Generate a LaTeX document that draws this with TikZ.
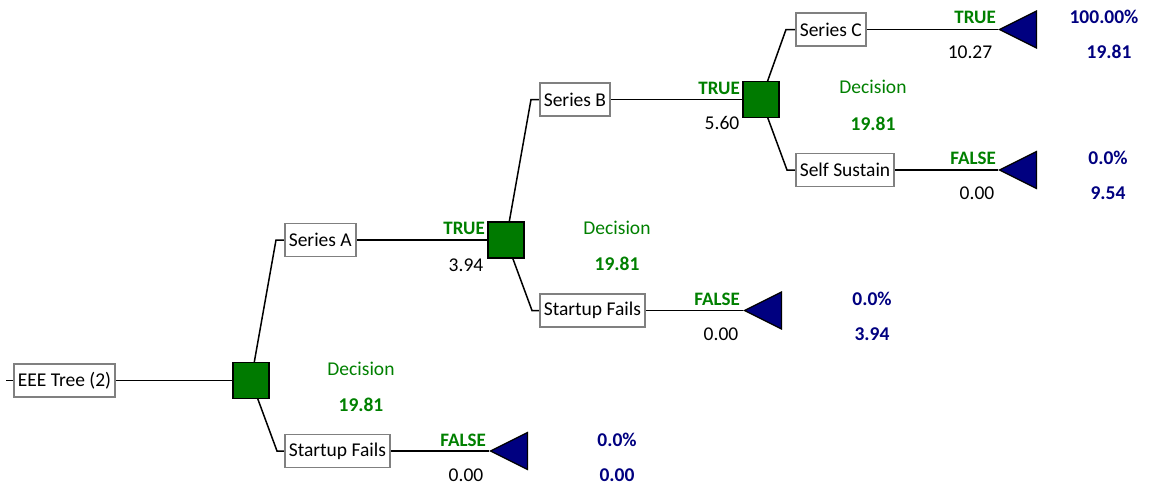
\documentclass[tikz,border=0pt]{standalone}
\usepackage{fontspec}
\setmainfont{Carlito}
\usetikzlibrary{shapes.geometric,backgrounds}
\definecolor{dgreen}{RGB}{0,128,0}
\definecolor{sqgreen}{RGB}{0,122,0}
\definecolor{dnavy}{RGB}{0,0,128}
\definecolor{boxgray}{RGB}{128,128,128}
\tikzset{
  txt/.style={font=\fontsize{19.5}{21}\selectfont},
  stage/.style={draw=boxgray, line width=1.6pt, fill=white, minimum height=33pt,
    inner xsep=4pt, inner ysep=0pt, anchor=west, txt},
  choice/.style={draw=black, line width=1.8pt, fill=sqgreen, minimum size=36pt, inner sep=0pt},
  leaf/.style={isosceles triangle, isosceles triangle stretches, shape border rotate=180,
    draw=black, line width=1.2pt, fill=dnavy, minimum width=37pt, minimum height=37pt,
    inner sep=0pt, anchor=apex},
  link/.style={draw=black, line width=1.5pt},
  branchT/.style={text=dgreen, font=\fontsize{19}{21}\selectfont\bfseries, anchor=east, inner sep=0pt},
  val/.style={txt, text=black, inner sep=0pt},
  dlabel/.style={txt, text=dgreen, inner sep=0pt},
  dvalue/.style={text=dgreen, font=\fontsize{19.5}{21}\selectfont\bfseries, inner sep=0pt},
  pval/.style={text=dnavy, font=\fontsize{19.5}{21}\selectfont\bfseries, inner sep=0pt}
}
\begin{document}
\begin{tikzpicture}[x=1pt,y=-1pt]
\useasboundingbox (0,0) rectangle (1149,485);

% stages
\node[stage] (root) at (13,380.5) {EEE Tree (2)};
\node[stage] (sA) at (284,240) {Series A};
\node[stage] (sF1) at (284,451) {Startup Fails};
\node[stage] (sB) at (539,99.5) {Series B};
\node[stage] (sF2) at (539,310.5) {Startup Fails};
\node[stage] (sC) at (795,29.5) {Series C};
\node[stage] (sS) at (795,170) {Self Sustain};

% decision squares
\node[choice] (d1) at (251,380.5) {};
\node[choice] (d2) at (506,240) {};
\node[choice] (d3) at (761,99.5) {};

% end points
\node[leaf] (tC) at (998,29.5) {};
\node[leaf] (tS) at (998,170) {};
\node[leaf] (tF2) at (743,310.5) {};
\node[leaf] (tF1) at (489,451) {};

% elbows
\coordinate (rootin) at (6,380.5);
\coordinate (eA) at (276,240);
\coordinate (eF1) at (277,451);
\coordinate (eB) at (531,99.5);
\coordinate (eF2) at (532,310.5);
\coordinate (eC) at (786,29.5);
\coordinate (eS) at (787,170);

\begin{pgfonlayer}{background}
\draw[link] (rootin) -- (root.west);
\draw[link] (root.east) -- (d1.center);
\draw[link] (d1.center) -- (eA) -- (sA.west);
\draw[link] (d1.center) -- (eF1) -- (sF1.west);
\draw[link] (sA.east) -- (d2.center);
\draw[link] (d2.center) -- (eB) -- (sB.west);
\draw[link] (d2.center) -- (eF2) -- (sF2.west);
\draw[link] (sB.east) -- (d3.center);
\draw[link] (d3.center) -- (eC) -- (sC.west);
\draw[link] (d3.center) -- (eS) -- (sS.west);
\draw[link] (sC.east) -- (tC.apex);
\draw[link] (sS.east) -- (tS.apex);
\draw[link] (sF2.east) -- (tF2.apex);
\draw[link] (sF1.east) -- (tF1.apex);
\end{pgfonlayer}

% branch labels and values
\node[branchT] (lA) at (485,228) {TRUE};
\node[val] (vA) at (466,265) {3.94};
\node[branchT] (lB) at (740,88) {TRUE};
\node[val] (vB) at (722,123) {5.60};
\node[branchT] (lC) at (996,17) {TRUE};
\node[val] (vC) at (970,52) {10.27};
\node[branchT] (lS) at (996,158) {FALSE};
\node[val] (vS) at (977,193) {0.00};
\node[branchT] (lF2) at (740,299) {FALSE};
\node[val] (vF2) at (721,334) {0.00};
\node[branchT] (lF1) at (486,440) {FALSE};
\node[val] (vF1) at (466,475) {0.00};

% decision labels
\node[dlabel] (n1) at (361,369) {Decision};
\node[dvalue] (m1) at (361,405) {19.81};
\node[dlabel] (n2) at (617,228) {Decision};
\node[dvalue] (m2) at (617,264) {19.81};
\node[dlabel] (n3) at (873,87) {Decision};
\node[dvalue] (m3) at (873,124) {19.81};

% probabilities and payoffs
\node[pval] (pC) at (1104,17) {100.00\%};
\node[pval] (qC) at (1109,52) {19.81};
\node[pval] (pS) at (1108,158) {0.0\%};
\node[pval] (qS) at (1108,193) {9.54};
\node[pval] (pF2) at (872,299) {0.0\%};
\node[pval] (qF2) at (872,334) {3.94};
\node[pval] (pF1) at (617,440) {0.0\%};
\node[pval] (qF1) at (617,475) {0.00};
\end{tikzpicture}
\end{document}
